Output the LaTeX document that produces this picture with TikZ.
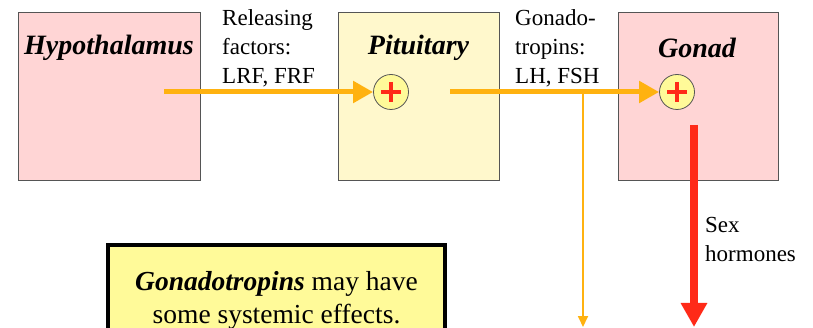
\documentclass[tikz,border=0pt]{standalone}
\usepackage{fontspec}
\setmainfont{Liberation Serif}
\usepackage{tikz}
\usetikzlibrary{arrows.meta,positioning}

\definecolor{gpink}{HTML}{FFD5D5}
\definecolor{gcream}{HTML}{FFF8CC}
\definecolor{gyellow}{HTML}{FFFA99}
\definecolor{gorange}{HTML}{FFB210}
\definecolor{gred}{HTML}{FF2A18}
\definecolor{gborder}{HTML}{555555}

\tikzset{
	gland/.style={draw=gborder, line width=1pt, minimum height=168pt, inner sep=0pt},
	glandtitle/.style={font=\fontsize{28}{33}\selectfont\bfseries\itshape, inner sep=0pt},
	plusnode/.style={circle, draw=gborder, line width=0.8pt, fill=gyellow, minimum size=35pt, inner sep=0pt},
	plusline/.style={gred, line width=3.2pt},
	lbl/.style={font=\fontsize{23}{29}\selectfont, align=left, inner sep=0pt},
	hormone/.style={gorange, line width=5pt, -{Triangle[length=20pt,width=21pt]}},
	thinhormone/.style={gorange, line width=1.8pt, -{Triangle[length=11pt,width=10pt]}},
	sexhormone/.style={gred, line width=8pt, -{Triangle[length=24pt,width=25pt]}},
	notebox/.style={draw=black, line width=4pt, fill=gyellow, minimum width=337pt, minimum height=111pt,
		font=\fontsize{27.5}{33}\selectfont, align=center, inner sep=0pt}
}

\begin{document}
\begin{tikzpicture}[x=1pt,y=-1pt]
	\useasboundingbox (0,0) rectangle (813,328);
	
	\node[gland, fill=gpink, minimum width=182pt] (hyp) at (109,97) {};
	\node[gland, fill=gcream, minimum width=161pt] (pit) at (418.5,97) {};
	\node[gland, fill=gpink, minimum width=160pt] (gon) at (698,97) {};
	
	\node[glandtitle] (hyptitle) at (109,48) {Hypothalamus};
	\node[glandtitle] (pittitle) at (418.5,48) {Pituitary};
	\node[glandtitle] (gontitle) at (697,48) {Gonad};
	
	\node[plusnode] (pitplus) at (391,92) {};
	\node[plusnode] (gonplus) at (677,92) {};
	\foreach \p in {pitplus,gonplus}{
		\draw[plusline] (\p.center) ++(-10,0) -- ++(20,0);
		\draw[plusline] (\p.center) ++(0,-10) -- ++(0,20);
	}
	
	\coordinate (hypout) at (164,92);
	\coordinate (pitout) at (450,92);
	\coordinate (branch) at (583,92);
	\coordinate (branchend) at (583,327);
	\coordinate (gonout) at (694,125);
	\coordinate (gonend) at (694,327);
	
	\draw[hormone] (hypout) -- (pitplus.west);
	\draw[hormone] (pitout) -- (gonplus.west);
	\draw[thinhormone] (branch) -- (branchend);
	\draw[sexhormone] (gonout) -- (gonend);
	
	\node[lbl, anchor=north west] (rflabel) at (222,9) {Releasing\\factors:\\LRF, FRF};
	\node[lbl, anchor=north west] (gtlabel) at (515,9) {Gonado-\\tropins:\\LH, FSH};
	\node[lbl, anchor=north west] (shlabel) at (705,217) {Sex\\hormones};
	
	\node[notebox, anchor=north] (note) at (276.5,243) {\textbf{\textit{Gonadotropins}} may have\\some systemic effects.};
\end{tikzpicture}
\end{document}
